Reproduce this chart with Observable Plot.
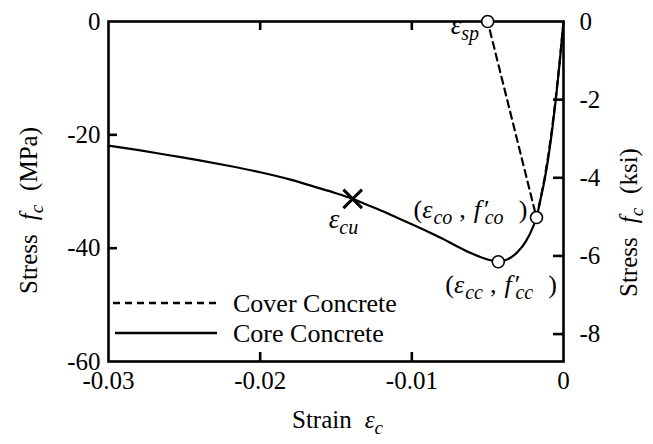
<!DOCTYPE html>
<html><head><meta charset="utf-8">
<script src="https://cdn.jsdelivr.net/npm/d3@7"></script>
<script src="https://cdn.jsdelivr.net/npm/@observablehq/plot@0.6"></script>
<style>body{margin:0;background:#fff} svg{display:block}</style>
</head><body><div id="chart"></div>
<script>
// ---- data ----
const xTicks = [-0.03, -0.02, -0.01, 0];
const yTicks = [-60, -40, -20, 0];
const ksiTicks = [0, -2, -4, -6, -8];
const KSI_TO_MPA = 6.895;

const coreStrain = [-0.030, -0.028, -0.026, -0.024, -0.022, -0.020, -0.018, -0.0165, -0.015, -0.0139, -0.013, -0.012, -0.011, -0.010, -0.009, -0.008, -0.007, -0.006, -0.005, -0.0043, -0.0035, -0.003, -0.0025, -0.002, -0.00178, -0.0015, -0.00125, -0.001, -0.00075, -0.0005, -0.00025, 0];
const coreStress = [-21.9, -22.7, -23.6, -24.5, -25.5, -26.6, -27.9, -29.1, -30.3, -31.3, -32.3, -33.4, -34.6, -35.8, -37.0, -38.3, -39.7, -41.0, -42.0, -42.4, -41.7, -40.6, -38.9, -36.2, -34.6, -31.2, -28.0, -24.0, -19.2, -13.6, -7.2, 0];

const coverStrain = [0, -0.00025, -0.0005, -0.00075, -0.001, -0.00125, -0.0015, -0.00178, -0.005];
const coverStress = [0, -7.0, -13.3, -18.8, -23.6, -27.7, -31.1, -34.6, 0];

const pointNames = ["sp", "co", "cc"];
const pointStrain = [-0.005, -0.00178, -0.0043];
const pointStress = [0, -34.6, -42.4];

const cuStrain = [-0.0139];
const cuStress = [-31.3];

// ---- layout ----
const W = 653, H = 444, ML = 108, MR = 90, MT = 21, MB = 83;
const FW = W - ML - MR, FH = H - MT - MB;
const FONT = '"Liberation Serif","Times New Roman",serif';
const fmt = d => String(d);

const core = coreStrain.map((x, i) => ({x, y: coreStress[i]}));
const cover = coverStrain.map((x, i) => ({x, y: coverStress[i]}));
const pts = pointNames.map((n, i) => ({n, x: pointStrain[i], y: pointStress[i]}));
const cu = cuStrain.map((x, i) => ({x, y: cuStress[i]}));
const pt = n => pts.filter(d => d.n === n);

const chart = Plot.plot({
  width: W, height: H,
  marginLeft: ML, marginRight: MR, marginTop: MT, marginBottom: MB,
  x: {domain: [-0.03, 0]},
  y: {domain: [-60, 0]},
  style: {fontFamily: FONT, background: "white", color: "black"},
  marks: [
    Plot.line(cover, {x: "x", y: "y", stroke: "black", strokeWidth: 2.2, strokeDasharray: "7,5"}),
    Plot.line(core, {x: "x", y: "y", stroke: "black", strokeWidth: 2.2, curve: "monotone-x"}),
    Plot.frame({stroke: "black", strokeWidth: 2.6}),
    Plot.tickY(yTicks.slice(1, -1), {y: d => d, insetRight: FW - 9, stroke: "black", strokeWidth: 2.6}),
    Plot.tickY(ksiTicks.slice(1), {y: d => d * KSI_TO_MPA, insetLeft: FW - 10, stroke: "black", strokeWidth: 2.6}),
    Plot.tickX(xTicks.slice(1, -1), {x: d => d, insetTop: FH - 9, stroke: "black", strokeWidth: 2.6}),
    Plot.tickX(xTicks.slice(1, -1), {x: d => d, insetBottom: FH - 9, stroke: "black", strokeWidth: 2.6}),
    Plot.axisX(xTicks, {tickSize: 0, tickPadding: 10, tickFormat: fmt, fontSize: 25, label: null}),
    Plot.axisY(yTicks, {tickSize: 0, tickPadding: 8, tickFormat: fmt, fontSize: 25, label: null}),
    Plot.text(ksiTicks, {y: d => d * KSI_TO_MPA, text: fmt, frameAnchor: "right", dx: 16, textAnchor: "start", fontSize: 25}),
    Plot.dot(pts, {x: "x", y: "y", r: 6, stroke: "black", fill: "white", strokeWidth: 1.6}),
    Plot.dot(cu, {x: "x", y: "y", symbol: "times", r: 8.5, stroke: "black", strokeWidth: 3}),
    Plot.text(pt("sp"), {x: "x", y: "y", text: () => "esp", textAnchor: "start", lineAnchor: "bottom", dx: -37, dy: 12, fontSize: 27, className: "ann-sp"}),
    Plot.text(cu, {x: "x", y: "y", text: () => "ecu", textAnchor: "start", lineAnchor: "bottom", dx: -24, dy: 29, fontSize: 27, className: "ann-cu"}),
    Plot.text(pt("co"), {x: "x", y: "y", text: () => "co", textAnchor: "start", lineAnchor: "bottom", dx: -123, dy: 0, fontSize: 26, className: "ann-co"}),
    Plot.text(pt("cc"), {x: "x", y: "y", text: () => "cc", textAnchor: "start", lineAnchor: "bottom", dx: -53, dy: 31, fontSize: 26, className: "ann-cc"})
  ]
});

const svg = d3.select(chart);

function rich(textSel, parts, size) {
  textSel.text(null).style("white-space", "pre").attr("text-anchor", "start");
  let shifted = 0;
  for (const p of parts) {
    const ts = textSel.append("tspan").text(p.t);
    if (p.i) ts.attr("font-style", "italic");
    let dy = 0;
    if (p.sub) { ts.attr("font-size", Math.round(size * 0.75)); dy = 6 - shifted; shifted = 6; }
    else { dy = -shifted; shifted = 0; }
    if (dy) ts.attr("dy", dy);
    if (p.dx) ts.attr("dx", p.dx);
  }
}

const E = "\u03B5";
rich(svg.select(".ann-sp text"), [{t: E, i: 1}, {t: "sp", i: 1, sub: 1}], 27);
rich(svg.select(".ann-cu text"), [{t: E, i: 1}, {t: "cu", i: 1, sub: 1}], 27);
const pairParts = s => [{t: "("}, {t: E, i: 1}, {t: s, i: 1, sub: 1, dx: 1}, {t: ",", dx: 7}, {t: "f", i: 1, dx: 8}, {t: "\u2032", dx: 3}, {t: s, i: 1, sub: 1, dx: -5}, {t: ")", dx: 15}];
rich(svg.select(".ann-co text"), pairParts("co"), 26);
rich(svg.select(".ann-cc text"), pairParts("cc"), 26);

// axis titles
const g = svg.append("g").attr("font-family", FONT).attr("font-size", 25).attr("fill", "black");
const yl = g.append("text").attr("transform", "translate(37,294) rotate(-90)");
rich(yl, [{t: "Stress"}, {t: "f", i: 1, dx: 14}, {t: "c", i: 1, sub: 1}, {t: "(MPa)", dx: 14}], 25);
const yr = g.append("text").attr("transform", "translate(637,297) rotate(-90)");
rich(yr, [{t: "Stress"}, {t: "f", i: 1, dx: 14}, {t: "c", i: 1, sub: 1}, {t: "(ksi)", dx: 14}], 25);
const xl = g.append("text").attr("x", 292).attr("y", 428);
rich(xl, [{t: "Strain"}, {t: E, i: 1, dx: 13}, {t: "c", i: 1, sub: 1}], 25);

// legend
const lg = svg.append("g").attr("font-family", FONT).attr("font-size", 26).attr("text-anchor", "start");
lg.append("line").attr("x1", 113).attr("x2", 217).attr("y1", 303).attr("y2", 303)
  .attr("stroke", "black").attr("stroke-width", 2.4).attr("stroke-dasharray", "7,5");
lg.append("line").attr("x1", 115).attr("x2", 217).attr("y1", 333).attr("y2", 333)
  .attr("stroke", "black").attr("stroke-width", 2.6);
lg.append("text").attr("x", 233).attr("y", 312).text("Cover Concrete");
lg.append("text").attr("x", 233).attr("y", 342).text("Core Concrete");

document.getElementById("chart").appendChild(chart);
</script>
</body></html>
